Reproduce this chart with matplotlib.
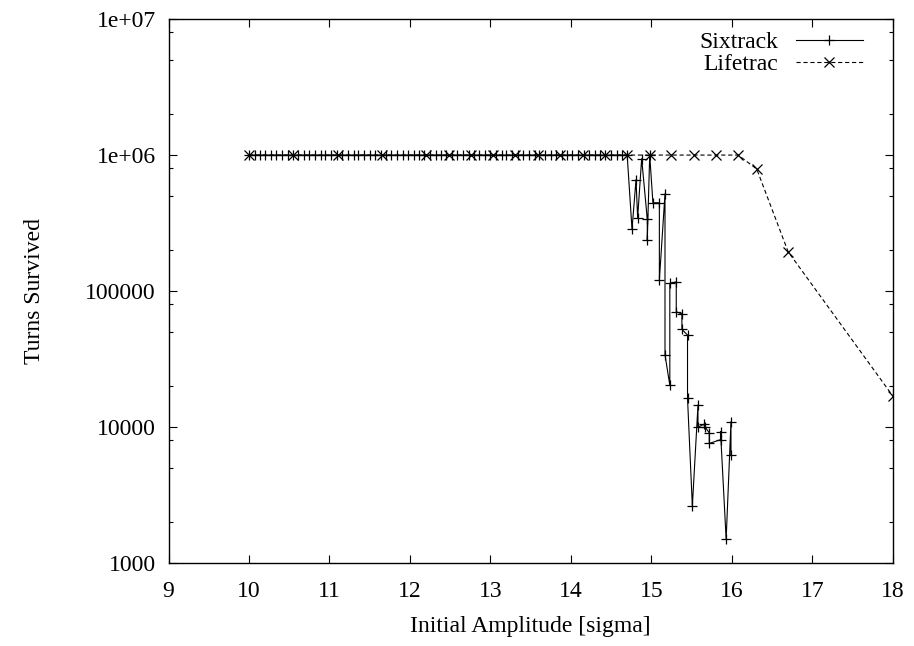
# Dynamic aperture scan: turns survived vs initial amplitude

import matplotlib.pyplot as plt
from matplotlib.ticker import FixedLocator, NullFormatter

# Sixtrack: plateau at 1e6 up to ~14.7 sigma, then losses
six_amp = [10.00, 10.07, 10.14, 10.20, 10.27, 10.34, 10.41, 10.48, 10.55, 10.61,
           10.68, 10.75, 10.82, 10.89, 10.95, 11.02, 11.09, 11.16, 11.23, 11.30,
           11.36, 11.43, 11.50, 11.57, 11.64, 11.70, 11.77, 11.84, 11.91, 11.98,
           12.05, 12.11, 12.18, 12.25, 12.32, 12.39, 12.45, 12.52, 12.59, 12.66,
           12.73, 12.80, 12.86, 12.93, 13.00, 13.07, 13.14, 13.20, 13.27, 13.34,
           13.41, 13.48, 13.55, 13.61, 13.68, 13.75, 13.82, 13.89, 13.95, 14.02,
           14.09, 14.16, 14.23, 14.30, 14.36, 14.43, 14.50, 14.57, 14.64, 14.70,
           14.76, 14.81, 14.83, 14.88, 14.95, 14.95, 14.98, 15.02, 15.10, 15.10,
           15.17, 15.17, 15.23, 15.23, 15.31, 15.31, 15.38, 15.38, 15.45, 15.45,
           15.51, 15.58, 15.58, 15.65, 15.67, 15.72, 15.72, 15.86, 15.86, 15.93,
           15.99, 15.99]
six_turns = [1e6, 1e6, 1e6, 1e6, 1e6, 1e6, 1e6, 1e6, 1e6, 1e6,
             1e6, 1e6, 1e6, 1e6, 1e6, 1e6, 1e6, 1e6, 1e6, 1e6,
             1e6, 1e6, 1e6, 1e6, 1e6, 1e6, 1e6, 1e6, 1e6, 1e6,
             1e6, 1e6, 1e6, 1e6, 1e6, 1e6, 1e6, 1e6, 1e6, 1e6,
             1e6, 1e6, 1e6, 1e6, 1e6, 1e6, 1e6, 1e6, 1e6, 1e6,
             1e6, 1e6, 1e6, 1e6, 1e6, 1e6, 1e6, 1e6, 1e6, 1e6,
             1e6, 1e6, 1e6, 1e6, 1e6, 1e6, 1e6, 1e6, 1e6, 1e6,
             285000, 660000, 346000, 940000, 337000, 237000, 1e6, 446000, 446000, 120000,
             520000, 34000, 20400, 114000, 117000, 70600, 68000, 52400, 47600, 16300,
             2630, 14600, 10000, 10500, 10000, 9100, 7600, 8100, 9300, 1500,
             11000, 6300]

# Lifetrac
life_amp = [10.00, 10.55, 11.10, 11.65, 12.20, 12.48, 12.76, 13.03, 13.31, 13.59,
            13.87, 14.15, 14.42, 14.70, 14.98, 15.25, 15.53, 15.81, 16.08, 16.31,
            16.70, 18.00]
life_turns = [1e6, 1e6, 1e6, 1e6, 1e6, 1e6, 1e6, 1e6, 1e6, 1e6,
              1e6, 1e6, 1e6, 1e6, 1e6, 1e6, 1e6, 1e6, 1e6, 790000,
              195000, 17000]

ytick_vals = [1e3, 1e4, 1e5, 1e6, 1e7]
ytick_labels = ['1000', '10000', '100000', '1e+06', '1e+07']

plt.rcParams['font.family'] = 'Liberation Serif'
plt.rcParams['font.size'] = 17
plt.rcParams['lines.scale_dashes'] = False

fig = plt.figure(figsize=(9.14, 6.46), dpi=100, facecolor='white')
ax = fig.add_axes([0.1844, 0.128, 0.7923, 0.8426])

ax.plot(six_amp, six_turns, color='black', lw=0.8, marker='+',
        ms=7.5, mew=0.9, label='Sixtrack')
ax.plot(life_amp, life_turns, color='black', lw=0.8, marker='x',
        ms=6.5, mew=0.9, dashes=(3, 2), label='Lifetrac')

ax.set_yscale('log')
ax.set_xlim(9, 18)
ax.set_ylim(1e3, 1e7)
ax.set_xticks(range(9, 19))
ax.yaxis.set_major_locator(FixedLocator(ytick_vals))
ax.set_yticklabels(ytick_labels)
minors = [m * 10 ** e for e in range(3, 7) for m in (2, 5, 8)]
ax.yaxis.set_minor_locator(FixedLocator(minors))
ax.yaxis.set_minor_formatter(NullFormatter())
ax.xaxis.set_minor_locator(FixedLocator([]))

ax.tick_params(which='both', direction='in', top=True, right=True, width=0.8)
ax.tick_params(which='major', length=6, pad=9)
ax.tick_params(axis='x', which='major', pad=12.5)
ax.tick_params(which='minor', length=3)
for s in ax.spines.values():
    s.set_linewidth(1.0)

ax.set_xlabel('Initial Amplitude [sigma]', labelpad=10)
ax.set_ylabel('Turns Survived', labelpad=29)

ax.legend(loc='upper right', bbox_to_anchor=(0.982, 1.007), frameon=False,
          markerfirst=False, handlelength=2.85, handletextpad=0.75,
          labelspacing=0.0, borderaxespad=0.3, numpoints=1, borderpad=0.4)

plt.savefig('out.png', dpi=100, facecolor='white')
